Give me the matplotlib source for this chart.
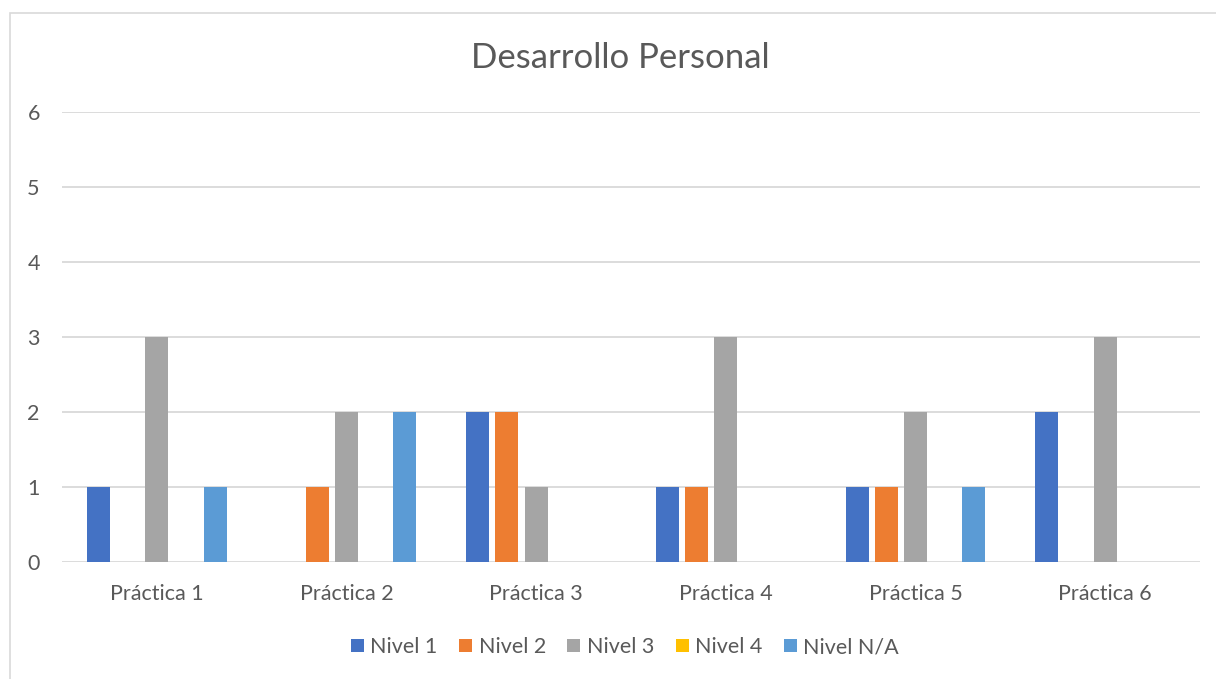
import numpy as np
import matplotlib.pyplot as plt
from matplotlib.patches import Rectangle

categories = ["Práctica 1", "Práctica 2", "Práctica 3", "Práctica 4", "Práctica 5", "Práctica 6"]
series_names = ["Nivel 1", "Nivel 2", "Nivel 3", "Nivel 4", "Nivel N/A"]
nivel_1 = [1, 0, 2, 1, 1, 2]
nivel_2 = [0, 1, 2, 1, 1, 0]
nivel_3 = [3, 2, 1, 3, 2, 3]
nivel_4 = [0, 0, 0, 0, 0, 0]
nivel_na = [1, 2, 0, 0, 1, 0]
colors = ["#4472C4", "#ED7D31", "#A5A5A5", "#FFC000", "#5B9BD5"]

plt.rcParams['font.family'] = ['Lato', 'DejaVu Sans']
text_color = "#595959"

fig = plt.figure(figsize=(12.16, 6.79), dpi=100)
ax = fig.add_axes([62 / 1216, (679 - 562) / 679, (1200 - 62) / 1216, 450 / 679])

# chart border (left and top only visible)
fig.patches.append(Rectangle((10 / 1216, -0.1), 1.2, (679 - 13) / 679 + 0.1,
                             transform=fig.transFigure, fill=False,
                             edgecolor="#D9D9D9", linewidth=1.2))

x = np.arange(len(categories))
pitch = 0.154
width = 0.121
all_series = [nivel_1, nivel_2, nivel_3, nivel_4, nivel_na]
for i, (name, vals) in enumerate(zip(series_names, all_series)):
    ax.bar(x + (i - 2) * pitch, vals, width, color=colors[i], label=name, zorder=3)

ax.set_xlim(-0.5, len(categories) - 0.5)
ax.set_ylim(0, 6)
ax.set_yticks(range(7))
ax.set_xticks(x)
ax.set_xticklabels(categories)
ax.grid(axis='y', color="#D9D9D9", linewidth=1.3, zorder=0)
for s in ax.spines.values():
    s.set_visible(False)
ax.tick_params(length=0, labelsize=15.5, colors=text_color)
ax.tick_params(axis='x', pad=16)
ax.tick_params(axis='y', pad=16)

fig.text(620 / 1216, 1 - 58 / 679, "Desarrollo Personal", ha='center', va='center',
         fontsize=25, color=text_color)

leg = fig.legend(loc='center', bbox_to_anchor=(625 / 1216, 1 - 647 / 679), ncol=5,
                 frameon=False, fontsize=15.5, handlelength=0.6, handleheight=0.6,
                 handletextpad=0.3, columnspacing=1.0)
for t in leg.get_texts():
    t.set_color(text_color)

fig.savefig("out.png", dpi=100)
